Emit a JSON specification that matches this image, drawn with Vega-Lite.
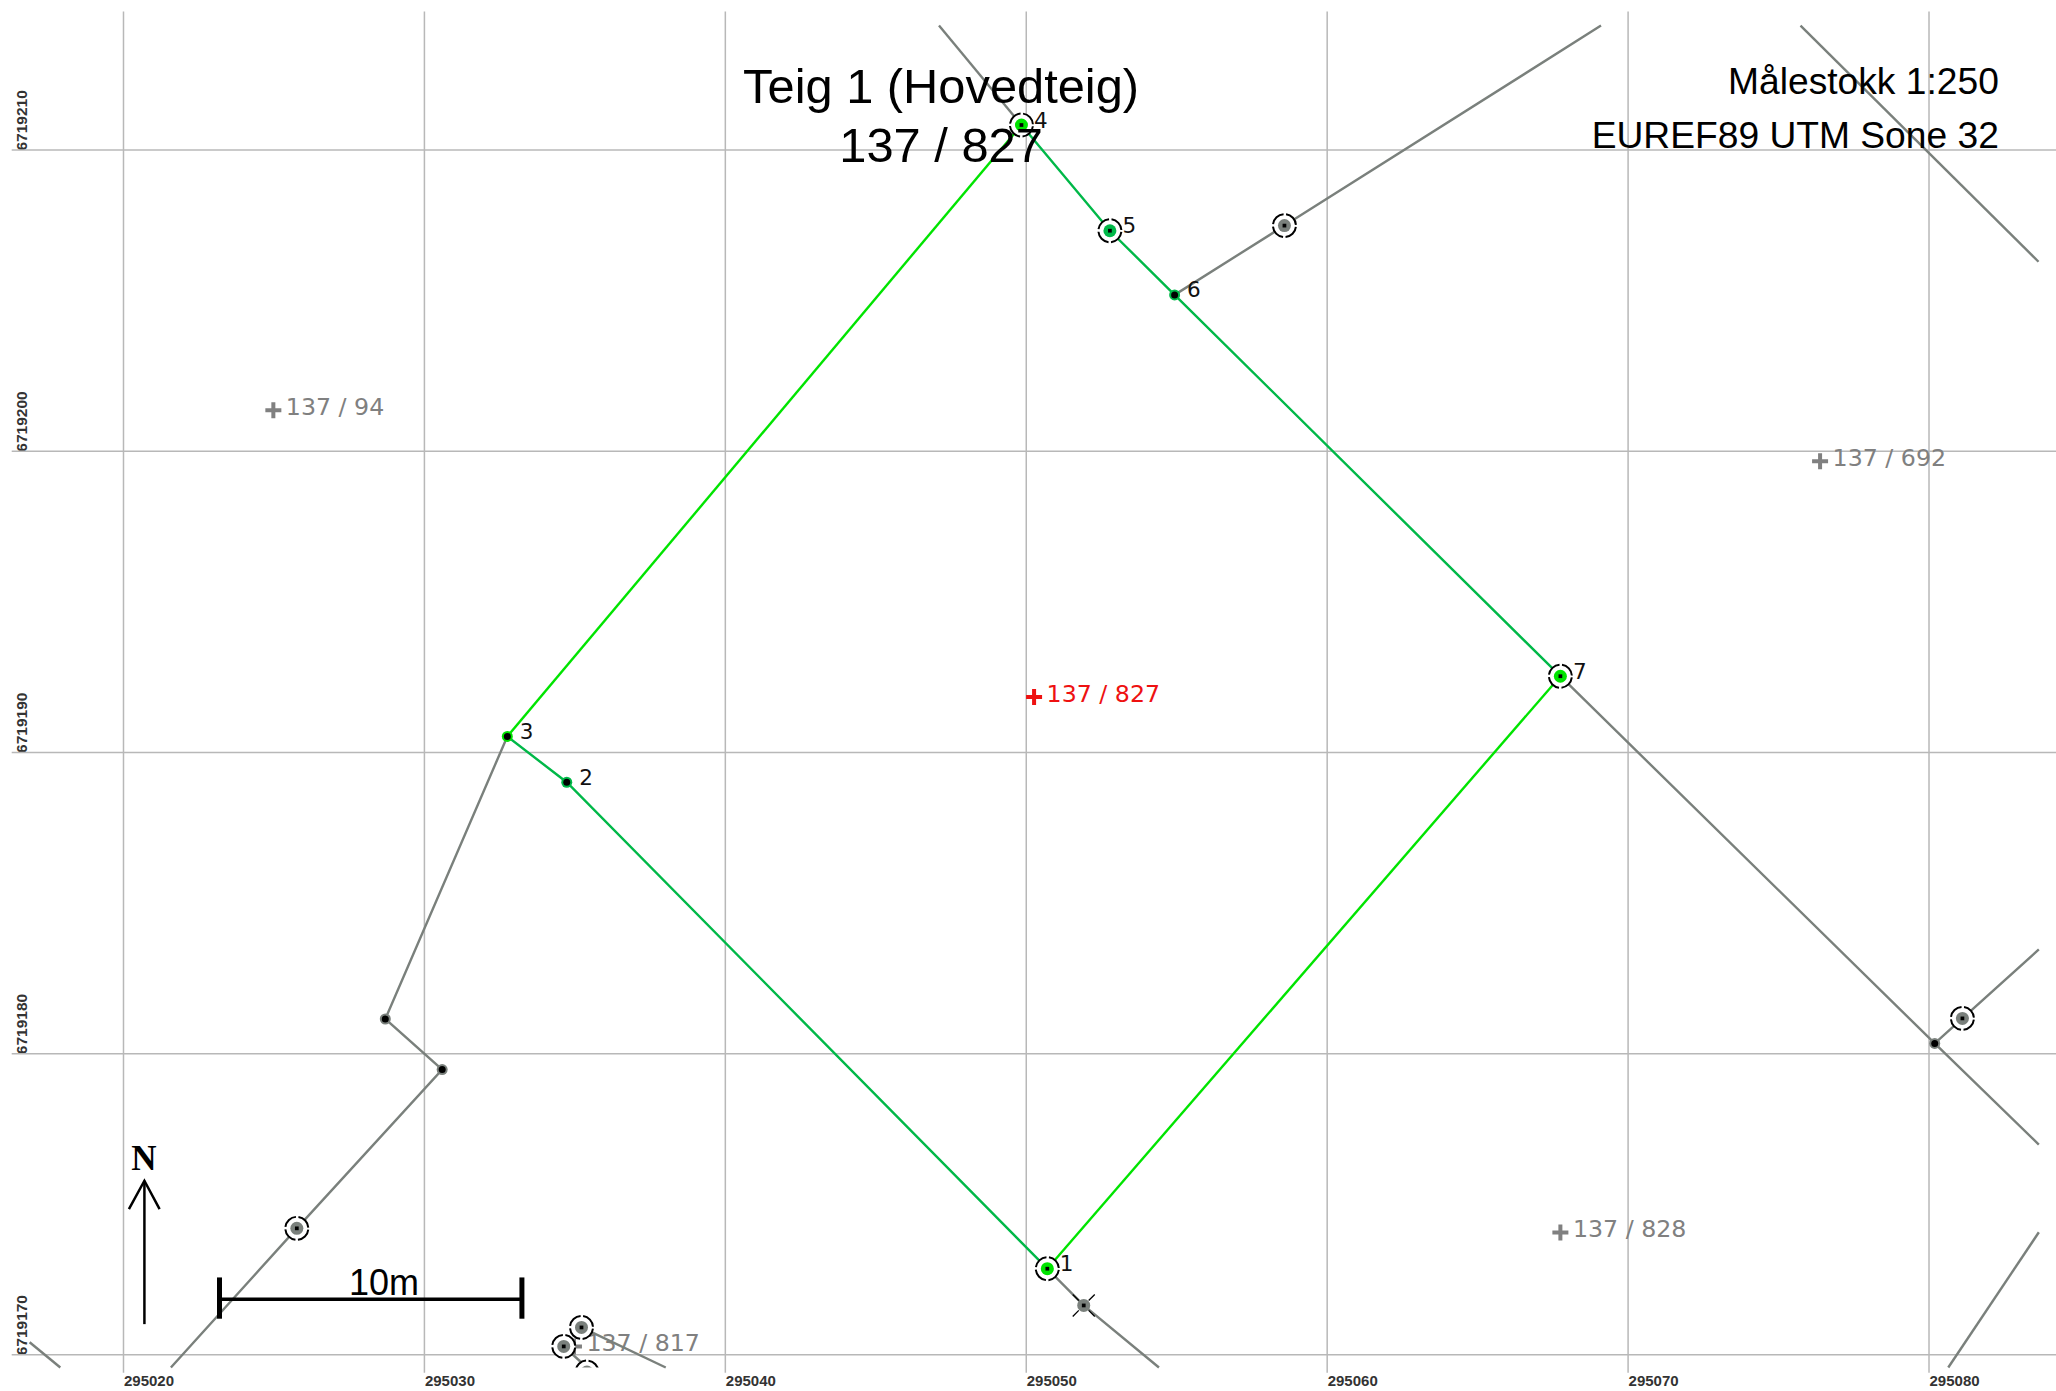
{
"$schema":"https://vega.github.io/schema/vega-lite/v6.json",
"width":2056,"height":1391,"padding":0,"autosize":{"type":"none"},"background":"white",
"config":{"view":{"stroke":null}},
"datasets":{
"gridV":[{"x":295020,"y":6719214.6,"y2":6719169.41},{"x":295030,"y":6719214.6,"y2":6719169.41},{"x":295040,"y":6719214.6,"y2":6719169.41},{"x":295050,"y":6719214.6,"y2":6719169.41},{"x":295060,"y":6719214.6,"y2":6719169.41},{"x":295070,"y":6719214.6,"y2":6719169.41},{"x":295080,"y":6719214.6,"y2":6719169.41}],
"gridH":[{"x":295016.285,"x2":295084.22,"y":6719210},{"x":295016.285,"x2":295084.22,"y":6719200},{"x":295016.285,"x2":295084.22,"y":6719190},{"x":295016.285,"x2":295084.22,"y":6719180},{"x":295016.285,"x2":295084.22,"y":6719170}],
"lines":[
{"id":"a","cls":"gray","seq":1,"x":295047.10,"y":6719214.13},{"id":"a","cls":"gray","seq":2,"x":295049.84,"y":6719210.83},
{"id":"b","cls":"gray","seq":1,"x":295054.93,"y":6719205.19},{"id":"b","cls":"gray","seq":2,"x":295058.58,"y":6719207.49},{"id":"b","cls":"gray","seq":3,"x":295069.10,"y":6719214.13},
{"id":"c","cls":"gray","seq":1,"x":295075.73,"y":6719214.13},{"id":"c","cls":"gray","seq":2,"x":295083.64,"y":6719206.29},
{"id":"d","cls":"gray","seq":1,"x":295067.75,"y":6719192.53},{"id":"d","cls":"gray","seq":2,"x":295080.19,"y":6719180.34},{"id":"d","cls":"gray","seq":3,"x":295083.65,"y":6719176.98},
{"id":"e","cls":"gray","seq":1,"x":295080.19,"y":6719180.34},{"id":"e","cls":"gray","seq":2,"x":295081.11,"y":6719181.17},{"id":"e","cls":"gray","seq":3,"x":295083.65,"y":6719183.46},
{"id":"f","cls":"gray","seq":1,"x":295083.65,"y":6719174.07},{"id":"f","cls":"gray","seq":2,"x":295080.64,"y":6719169.58},
{"id":"g","cls":"gray","seq":1,"x":295050.70,"y":6719172.86},{"id":"g","cls":"gray","seq":2,"x":295051.91,"y":6719171.64},{"id":"g","cls":"gray","seq":3,"x":295054.41,"y":6719169.58},
{"id":"h","cls":"gray","seq":1,"x":295032.755,"y":6719190.53},{"id":"h","cls":"gray","seq":2,"x":295028.70,"y":6719181.15},{"id":"h","cls":"gray","seq":3,"x":295030.59,"y":6719179.47},{"id":"h","cls":"gray","seq":4,"x":295025.76,"y":6719174.20},{"id":"h","cls":"gray","seq":5,"x":295021.575,"y":6719169.58},
{"id":"i","cls":"gray","seq":1,"x":295016.88,"y":6719170.42},{"id":"i","cls":"gray","seq":2,"x":295017.90,"y":6719169.58},
{"id":"j","cls":"gray","seq":1,"x":295035.22,"y":6719170.91},{"id":"j","cls":"gray","seq":2,"x":295038.02,"y":6719169.58},
{"id":"k","cls":"gray","seq":1,"x":295034.63,"y":6719170.28},{"id":"k","cls":"gray","seq":2,"x":295035.40,"y":6719169.58},
{"id":"p1","cls":"dark","seq":1,"x":295050.70,"y":6719172.86},{"id":"p1","cls":"dark","seq":2,"x":295034.73,"y":6719189.01},{"id":"p1","cls":"dark","seq":3,"x":295032.755,"y":6719190.53},
{"id":"p2","cls":"bright","seq":1,"x":295032.755,"y":6719190.53},{"id":"p2","cls":"bright","seq":2,"x":295049.84,"y":6719210.83},
{"id":"p3","cls":"dark","seq":1,"x":295049.84,"y":6719210.83},{"id":"p3","cls":"dark","seq":2,"x":295052.78,"y":6719207.32},{"id":"p3","cls":"dark","seq":3,"x":295054.93,"y":6719205.19},{"id":"p3","cls":"dark","seq":4,"x":295067.75,"y":6719192.53},
{"id":"p4","cls":"bright","seq":1,"x":295067.75,"y":6719192.53},{"id":"p4","cls":"bright","seq":2,"x":295050.70,"y":6719172.86}
],
"rings":[
{"x":295050.70,"y":6719172.86,"cls":"bright"},{"x":295049.84,"y":6719210.83,"cls":"bright"},{"x":295052.78,"y":6719207.32,"cls":"dark"},{"x":295067.75,"y":6719192.53,"cls":"bright"},
{"x":295058.58,"y":6719207.49,"cls":"gray"},{"x":295081.11,"y":6719181.17,"cls":"gray"},{"x":295025.76,"y":6719174.20,"cls":"gray"},{"x":295035.22,"y":6719170.91,"cls":"gray"},{"x":295034.63,"y":6719170.28,"cls":"gray"},{"x":295035.40,"y":6719169.43,"cls":"gray"}
],
"smalls":[
{"x":295034.73,"y":6719189.01,"cls":"dark"},{"x":295032.755,"y":6719190.53,"cls":"bright"},{"x":295054.93,"y":6719205.19,"cls":"dark"},{"x":295080.19,"y":6719180.34,"cls":"gray"},{"x":295028.70,"y":6719181.15,"cls":"gray"},{"x":295030.59,"y":6719179.47,"cls":"gray"}
],
"cross":[{"x":295051.91,"y":6719171.64,"cls":"gray"}],
"mask":[{"x":295034.4,"x2":295036.6,"y":6719169.58,"y2":6719168.9}],
"numbers":[
{"x":295050.70,"y":6719172.86,"t":"1"},{"x":295034.73,"y":6719189.01,"t":"2"},{"x":295032.755,"y":6719190.53,"t":"3"},{"x":295049.84,"y":6719210.83,"t":"4"},{"x":295052.78,"y":6719207.32,"t":"5"},{"x":295054.93,"y":6719205.19,"t":"6"},{"x":295067.75,"y":6719192.53,"t":"7"}
],
"parcels":[
{"x":295024.98,"y":6719201.36,"t":"137 / 94","cls":"label"},{"x":295076.38,"y":6719199.67,"t":"137 / 692","cls":"label"},{"x":295067.75,"y":6719174.06,"t":"137 / 828","cls":"label"},{"x":295034.97,"y":6719170.28,"t":"137 / 817","cls":"label"},{"x":295050.26,"y":6719191.84,"t":"137 / 827","cls":"own"}
],
"title":[{"x":295047.17,"y":6719211.55,"t":"Teig 1 (Hovedteig)"},{"x":295047.17,"y":6719209.6,"t":"137 / 827"}],
"info":[{"x":295082.32,"y":6719211.86,"t":"Målestokk 1:250"},{"x":295082.32,"y":6719210.08,"t":"EUREF89 UTM Sone 32"}],
"barH":[{"id":"b","seq":1,"x":295023.19,"y":6719171.85},{"id":"b","seq":2,"x":295033.24,"y":6719171.85}],
"barT":[{"x":295023.19,"y":6719172.57,"y2":6719171.20},{"x":295033.24,"y":6719172.57,"y2":6719171.20}],
"arrow":[{"id":"s","seq":1,"x":295020.695,"y":6719171.02},{"id":"s","seq":2,"x":295020.695,"y":6719175.78},{"id":"h","seq":1,"x":295020.18,"y":6719174.84},{"id":"h","seq":2,"x":295020.695,"y":6719175.78},{"id":"h","seq":3,"x":295021.20,"y":6719174.84}]
},
"encoding":{
"x":{"field":"x","type":"quantitative","scale":{"domain":[295015.896,295084.22],"nice":false,"zero":false},"axis":{"title":null,"grid":false,"domain":false,"ticks":false,"tickSize":0,"values":[295020,295030,295040,295050,295060,295070,295080],"format":"d","labelAlign":"left","labelBaseline":"alphabetic","labelPadding":-6,"labelFont":"Liberation Sans","labelFontWeight":"bold","labelFontSize":15,"labelColor":"#333333","labelOverlap":false,"labelFlush":false,"labelBound":false}},
"y":{"field":"y","type":"quantitative","scale":{"domain":[6719168.80,6719214.98],"nice":false,"zero":false},"axis":{"title":null,"grid":false,"domain":false,"ticks":false,"tickSize":0,"values":[6719170,6719180,6719190,6719200,6719210],"format":"d","labelAngle":270,"labelAlign":"left","labelBaseline":"alphabetic","labelPadding":-26,"labelFont":"Liberation Sans","labelFontWeight":"bold","labelFontSize":15.5,"labelColor":"#333333","labelOverlap":false,"labelFlush":false,"labelBound":false}},
"color":{"field":"cls","type":"nominal","legend":null,"scale":{"domain":["bright","dark","gray","label","own"],"range":["#00e400","#00b848","#7a807c","#808080","#ee1111"]}}
},
"layer":[
{"data":{"name":"gridV"},"mark":{"type":"rule","strokeWidth":1.5},"encoding":{"y2":{"field":"y2"},"color":{"value":"#b8b8b8"}}},
{"data":{"name":"gridH"},"mark":{"type":"rule","strokeWidth":1.5},"encoding":{"x2":{"field":"x2"},"color":{"value":"#b8b8b8"}}},
{"data":{"name":"parcels"},"mark":{"type":"point","filled":true,"shape":"M-0.25,-1H0.25V-0.25H1V0.25H0.25V1H-0.25V0.25H-1V-0.25H-0.25Z","size":256,"opacity":1}},
{"data":{"name":"parcels"},"mark":{"type":"text","font":"DejaVu Sans","fontSize":23.7,"align":"left","baseline":"alphabetic","dx":12.5,"dy":4.7},"encoding":{"text":{"field":"t"}}},
{"data":{"name":"lines"},"mark":{"type":"line","strokeWidth":2.4,"strokeCap":"butt"},"encoding":{"detail":{"field":"id"},"order":{"field":"seq"}}},
{"data":{"name":"rings"},"mark":{"type":"point","shape":"circle","filled":false,"fill":"white","fillOpacity":1,"strokeWidth":2,"strokeDash":[15.5,2.57],"strokeDashOffset":-1.3,"size":529,"opacity":1},"encoding":{"color":{"value":"black"}}},
{"data":{"name":"rings"},"mark":{"type":"point","shape":"circle","filled":true,"size":169,"opacity":1}},
{"data":{"name":"rings"},"mark":{"type":"point","shape":"square","filled":true,"size":14,"opacity":1},"encoding":{"color":{"value":"black"}}},
{"data":{"name":"cross"},"mark":{"type":"point","shape":"M-1,-1L-0.45,-0.45M0.45,0.45L1,1M-1,1L-0.45,0.45M0.45,-0.45L1,-1","filled":false,"strokeWidth":1.3,"size":484,"opacity":1},"encoding":{"color":{"value":"black"}}},
{"data":{"name":"cross"},"mark":{"type":"point","shape":"circle","filled":true,"size":169,"opacity":1}},
{"data":{"name":"cross"},"mark":{"type":"point","shape":"square","filled":true,"size":14,"opacity":1},"encoding":{"color":{"value":"black"}}},
{"data":{"name":"mask"},"mark":{"type":"rect"},"encoding":{"x2":{"field":"x2"},"y2":{"field":"y2"},"color":{"value":"white"}}},
{"data":{"name":"smalls"},"mark":{"type":"point","shape":"circle","filled":true,"size":121,"opacity":1}},
{"data":{"name":"smalls"},"mark":{"type":"point","shape":"circle","filled":true,"size":49,"opacity":1},"encoding":{"color":{"value":"black"}}},
{"data":{"name":"numbers"},"mark":{"type":"text","font":"DejaVu Sans","fontSize":21.5,"align":"left","baseline":"middle","dx":12.5,"dy":-3.5},"encoding":{"text":{"field":"t"},"color":{"value":"#111111"}}},
{"data":{"name":"title"},"mark":{"type":"text","font":"Liberation Sans","fontSize":48.8,"align":"center","baseline":"alphabetic"},"encoding":{"text":{"field":"t"},"color":{"value":"black"}}},
{"data":{"name":"info"},"mark":{"type":"text","font":"Liberation Sans","fontSize":37.2,"align":"right","baseline":"alphabetic"},"encoding":{"text":{"field":"t"},"color":{"value":"black"}}},
{"data":{"name":"barH"},"mark":{"type":"line","strokeWidth":3.5},"encoding":{"detail":{"field":"id"},"order":{"field":"seq"},"color":{"value":"black"}}},
{"data":{"name":"barT"},"mark":{"type":"rule","strokeWidth":5},"encoding":{"y2":{"field":"y2"},"color":{"value":"black"}}},
{"data":{"name":"arrow"},"mark":{"type":"line","strokeWidth":2.5},"encoding":{"detail":{"field":"id"},"order":{"field":"seq"},"color":{"value":"black"}}},
{"data":{"values":[{"x":295028.66,"y":6719172.0,"t":"10m"}]},"mark":{"type":"text","font":"Liberation Sans","fontSize":36,"align":"center","baseline":"alphabetic"},"encoding":{"text":{"field":"t"},"color":{"value":"black"}}},
{"data":{"values":[{"x":295020.68,"y":6719176.14,"t":"N"}]},"mark":{"type":"text","font":"Liberation Serif","fontWeight":"bold","fontSize":35,"align":"center","baseline":"alphabetic"},"encoding":{"text":{"field":"t"},"color":{"value":"black"}}}
]
}
